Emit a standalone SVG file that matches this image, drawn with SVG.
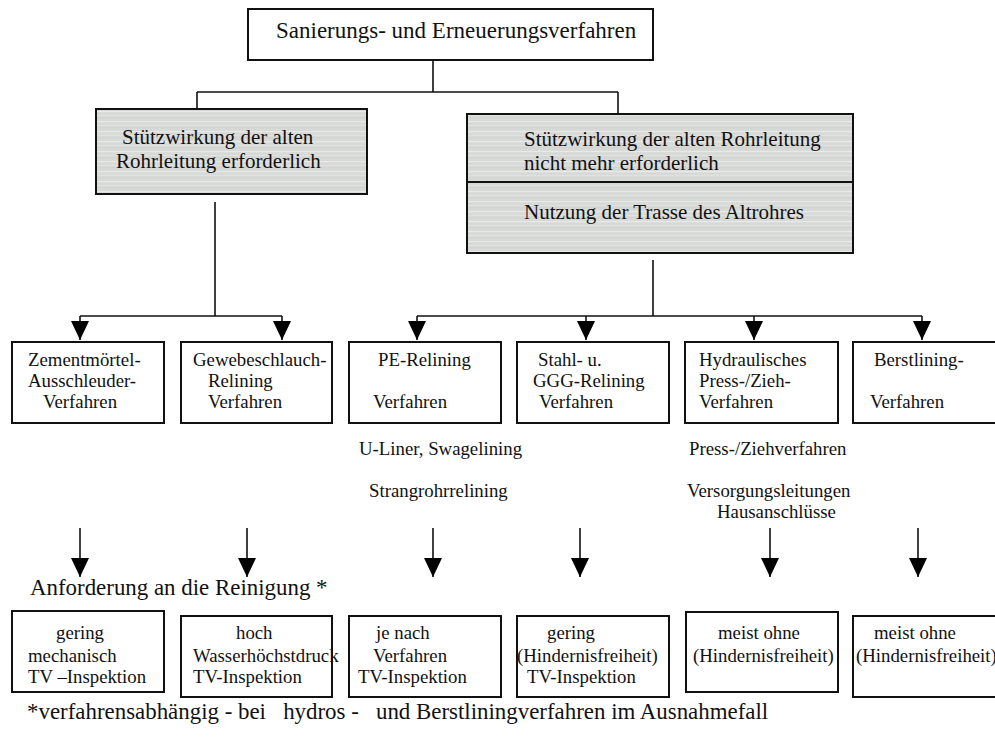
<svg xmlns="http://www.w3.org/2000/svg" width="995" height="737" viewBox="0 0 995 737">
  <defs>
    <!-- light grey fill with faint horizontal streaks -->
    <pattern id="greyFill" width="12" height="10" patternUnits="userSpaceOnUse">
      <rect width="12" height="10" fill="#d8dad8"/>
      <rect y="1" width="12" height="1.2" fill="#e8e9e8"/>
      <rect y="5" width="12" height="0.8" fill="#e2e3e2"/>
      <rect y="7.5" width="12" height="0.8" fill="#cfd1cf"/>
    </pattern>
    <!-- solid triangular arrow tip, pointing along the line -->
    <marker id="arrowHead" markerUnits="userSpaceOnUse" markerWidth="19" markerHeight="18" refX="19" refY="9" orient="auto" viewBox="0 0 19 18">
      <path d="M0,0 L19,9 L0,18 Z" fill="#000"/>
    </marker>
  </defs>
  <style>
    text { font-family: "Liberation Serif", "Times New Roman", serif; fill: #111; white-space: pre; }
    .box { fill: #fff; stroke: #111; stroke-width: 2; }
    .grey { fill: url(#greyFill); stroke: #111; stroke-width: 2; }
    .t-title { font-size: 23px; }
    .t-head { font-size: 21px; }
    .t-node { font-size: 18.8px; }
    .t-big { font-size: 22.9px; }
    .conn { fill: none; stroke: #111; stroke-width: 1.6; }
    .arr { fill: none; stroke: #111; stroke-width: 1.6; }
  </style>
  <rect width="995" height="737" fill="#fff"/>

  <!-- connectors -->
  <g id="connectors">
    <path class="conn" d="M433,60 V92 M197,92 H618 M197,92 V109 M618,92 V114"/>
    <path class="conn" d="M215,202 V316 M80,316 H282"/>
    <path class="conn" d="M653,260 V316 M417,316 H922"/>
    <!-- arrows into the method boxes -->
    <g marker-end="url(#arrowHead)">
      <path class="arr" d="M80,316 V340"/>
      <path class="arr" d="M282,316 V340"/>
      <path class="arr" d="M417,316 V340"/>
      <path class="arr" d="M586,316 V340"/>
      <path class="arr" d="M754,316 V340"/>
      <path class="arr" d="M922,316 V340"/>
    </g>
    <!-- arrows towards the cleaning requirements -->
    <g marker-end="url(#arrowHead)">
      <path class="arr" d="M80,528 V577"/>
      <path class="arr" d="M247,528 V577"/>
      <path class="arr" d="M433,528 V577"/>
      <path class="arr" d="M580,528 V577"/>
      <path class="arr" d="M770,528 V577"/>
      <path class="arr" d="M918,528 V577"/>
    </g>
  </g>

  <!-- top node -->
  <g id="n-top">
    <rect class="box" x="248" y="9" width="405" height="51"/>
    <text class="t-title" x="276" y="38">Sanierungs- und Erneuerungsverfahren</text>
  </g>

  <g id="n-stuetz-ja">
    <rect class="grey" x="96" y="109" width="271" height="85"/>
    <text class="t-head" x="122" y="144">Stützwirkung der alten</text>
    <text class="t-head" x="116" y="168">Rohrleitung erforderlich</text>
  </g>

  <g id="n-stuetz-nein">
    <rect class="grey" x="467" y="114" width="386" height="139"/>
    <line x1="467" y1="182" x2="853" y2="182" stroke="#111" stroke-width="2"/>
    <text class="t-head" x="524" y="146">Stützwirkung der alten Rohrleitung</text>
    <text class="t-head" x="524" y="170">nicht mehr erforderlich</text>
    <text class="t-head" x="524" y="219">Nutzung der Trasse des Altrohres</text>
  </g>

  <!-- method row -->
  <g id="m-zement">
    <rect class="box" x="12" y="342" width="152" height="81"/>
    <text class="t-node" x="28" y="366">Zementmörtel-</text>
    <text class="t-node" x="28" y="387">Ausschleuder-</text>
    <text class="t-node" x="43" y="408">Verfahren</text>
  </g>
  <g id="m-gewebe">
    <rect class="box" x="181" y="342" width="151" height="81"/>
    <text class="t-node" x="193" y="366">Gewebeschlauch-</text>
    <text class="t-node" x="208" y="387">Relining</text>
    <text class="t-node" x="208" y="408">Verfahren</text>
  </g>
  <g id="m-pe">
    <rect class="box" x="349" y="342" width="152" height="81"/>
    <text class="t-node" x="378" y="366">PE-Relining</text>
    <text class="t-node" x="373" y="408">Verfahren</text>
  </g>
  <g id="m-stahl">
    <rect class="box" x="517" y="342" width="152" height="81"/>
    <text class="t-node" x="538" y="366">Stahl- u.</text>
    <text class="t-node" x="533" y="387">GGG-Relining</text>
    <text class="t-node" x="539" y="408">Verfahren</text>
  </g>
  <g id="m-hydraulisch">
    <rect class="box" x="685" y="342" width="153" height="81"/>
    <text class="t-node" x="699" y="366">Hydraulisches</text>
    <text class="t-node" x="699" y="387">Press-/Zieh-</text>
    <text class="t-node" x="699" y="408">Verfahren</text>
  </g>
  <g id="m-berst">
    <rect class="box" x="853" y="342" width="160" height="81"/>
    <text class="t-node" x="874" y="366">Berstlining-</text>
    <text class="t-node" x="870" y="408">Verfahren</text>
  </g>

  <!-- variant notes -->
  <g id="notes">
    <text class="t-node" x="359" y="455">U-Liner, Swagelining</text>
    <text class="t-node" x="369" y="497">Strangrohrrelining</text>
    <text class="t-node" x="689" y="455">Press-/Ziehverfahren</text>
    <text class="t-node" x="687" y="497">Versorgungsleitungen</text>
    <text class="t-node" x="717" y="518">Hausanschlüsse</text>
  </g>

  <text class="t-big" x="30" y="595">Anforderung an die Reinigung *</text>

  <!-- cleaning requirement row -->
  <g id="r-zement">
    <rect class="box" x="12" y="611" width="152" height="81"/>
    <text class="t-node" x="56" y="639">gering</text>
    <text class="t-node" x="28" y="662">mechanisch</text>
    <text class="t-node" x="28" y="683">TV –Inspektion</text>
  </g>
  <g id="r-gewebe">
    <rect class="box" x="181" y="616" width="151" height="81"/>
    <text class="t-node" x="236" y="639">hoch</text>
    <text class="t-node" x="193" y="662">Wasserhöchstdruck</text>
    <text class="t-node" x="193" y="683">TV-Inspektion</text>
  </g>
  <g id="r-pe">
    <rect class="box" x="349" y="616" width="152" height="81"/>
    <text class="t-node" x="376" y="639">je nach</text>
    <text class="t-node" x="373" y="662">Verfahren</text>
    <text class="t-node" x="358" y="683">TV-Inspektion</text>
  </g>
  <g id="r-stahl">
    <rect class="box" x="517" y="616" width="152" height="81"/>
    <text class="t-node" x="547" y="639">gering</text>
    <text class="t-node" x="517" y="662">(Hindernisfreiheit)</text>
    <text class="t-node" x="527" y="683">TV-Inspektion</text>
  </g>
  <g id="r-hydraulisch">
    <rect class="box" x="686" y="612" width="152" height="80"/>
    <text class="t-node" x="718" y="639">meist ohne</text>
    <text class="t-node" x="693" y="662">(Hindernisfreiheit)</text>
  </g>
  <g id="r-berst">
    <rect class="box" x="853" y="616" width="160" height="81"/>
    <text class="t-node" x="874" y="639">meist ohne</text>
    <text class="t-node" x="856" y="662">(Hindernisfreiheit)</text>
  </g>

  <text class="t-big" x="27" y="719">*verfahrensabhängig - bei   hydros -   und Berstliningverfahren im Ausnahmefall</text>
</svg>
